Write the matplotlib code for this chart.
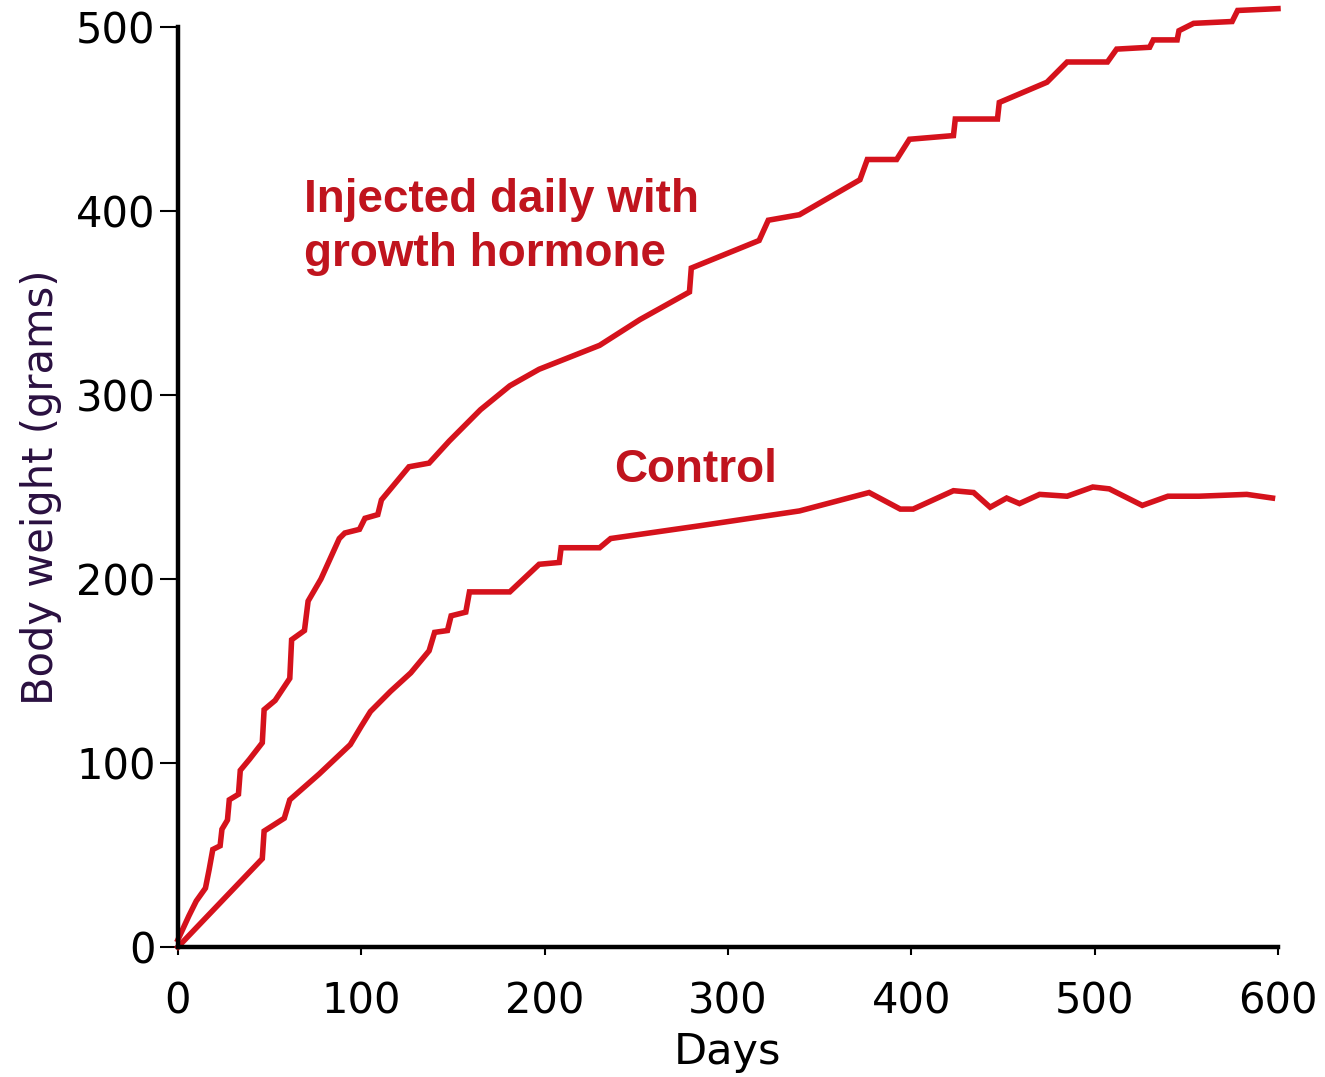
import numpy as np
import matplotlib.pyplot as plt

# growth hormone curve (day, grams)
inj_days = [0, 6, 10, 15, 17, 19, 23, 24, 27, 28, 33, 34, 39, 46, 47, 53, 61, 62, 69, 71,
            78, 88, 91, 99, 102, 109, 111, 121, 126, 137, 148, 165, 181, 197, 230, 252,
            279, 280, 317, 322, 339, 372, 376, 392, 399, 423, 424, 447, 448, 474, 485,
            507, 512, 530, 532, 545, 546, 554, 575, 578, 600]
inj_weight = [4, 17, 25, 32, 42, 53, 55, 64, 69, 80, 83, 96, 102, 111, 129, 134, 146, 167, 172, 188,
              200, 222, 225, 227, 233, 235, 243, 255, 261, 263, 275, 292, 305, 314, 327, 341,
              356, 369, 384, 395, 398, 417, 428, 428, 439, 441, 450, 450, 459, 470, 481,
              481, 488, 489, 493, 493, 498, 502, 503, 509, 510]

# control curve
ctl_days = [0, 46, 47, 58, 61, 77, 94, 100, 105, 116, 127, 137, 140, 147, 149, 157, 159, 181, 197, 208,
            209, 230, 236, 285, 339, 377, 394, 401, 423, 434, 443, 452, 459, 470, 485, 499,
            508, 526, 540, 557, 583, 597]
ctl_weight = [0, 48, 63, 70, 80, 94, 110, 120, 128, 139, 149, 161, 171, 172, 180, 182, 193, 193, 208, 209,
              217, 217, 222, 229, 237, 247, 238, 238, 248, 247, 239, 244, 241, 246, 245, 250,
              249, 240, 245, 245, 246, 244]

x_ticks = [0, 100, 200, 300, 400, 500, 600]
y_ticks = [0, 100, 200, 300, 400, 500]

red = '#d5121c'
txt_red = '#c0141e'

fig = plt.figure(figsize=(13.25, 10.77), dpi=100)
ax = fig.add_axes([0.1343, 0.1207, 0.8302, 0.8542])

ax.plot(inj_days, inj_weight, color=red, lw=4, clip_on=False, solid_joinstyle='miter')
ax.plot(ctl_days, ctl_weight, color=red, lw=4, clip_on=False, solid_joinstyle='miter')

ax.set_xlim(0, 600)
ax.set_ylim(0, 500)
ax.set_xticks(x_ticks)
ax.set_yticks(y_ticks)

for s in ['top', 'right']:
    ax.spines[s].set_visible(False)
for s in ['left', 'bottom']:
    ax.spines[s].set_linewidth(3.2)
    ax.spines[s].set_color('black')

ax.tick_params(axis='y', direction='out', length=13, width=1.5, labelsize=30, pad=3)
ax.tick_params(axis='x', direction='out', length=6, width=1.5, labelsize=30, pad=18)

ax.set_xlabel('Days', fontsize=31, labelpad=6)
ax.set_ylabel('Body weight (grams)', fontsize=30, labelpad=10, color='#2a1040')

ax.text(69, 418, 'Injected daily with\ngrowth hormone', color=txt_red, fontsize=33,
        fontweight='bold', family='Liberation Sans', va='top', ha='left', linespacing=1.3)
ax.text(238, 259, 'Control', color=txt_red, fontsize=33, fontweight='bold',
        family='Liberation Sans', va='center', ha='left')

fig.savefig('out.png', dpi=100, facecolor='white')
